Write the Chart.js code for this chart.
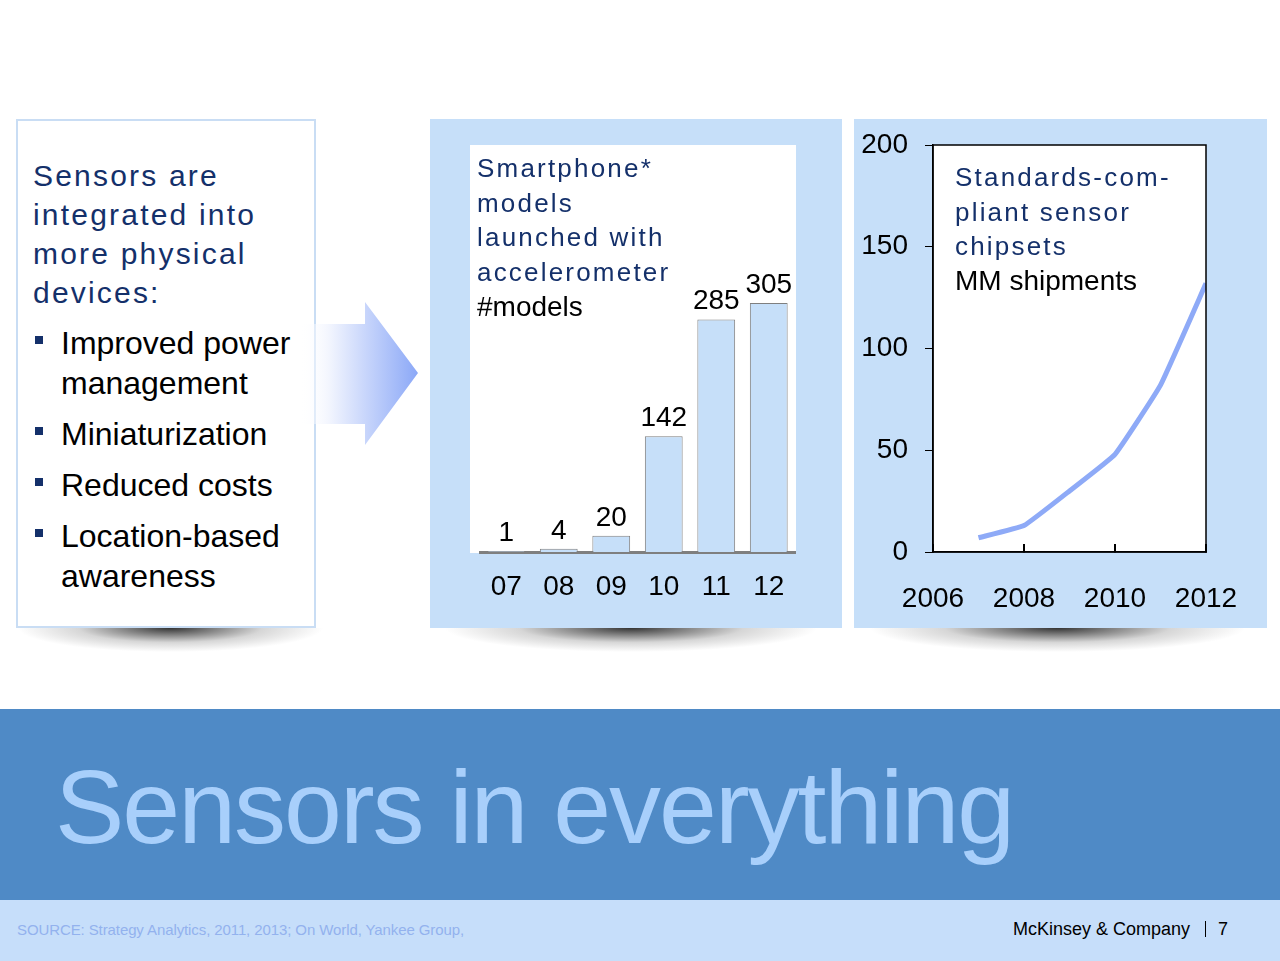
<!DOCTYPE html>
<html>
<head>
<meta charset="utf-8">
<script src="https://cdn.jsdelivr.net/npm/chart.js@4.4.1/dist/chart.umd.min.js"></script>
<style>
  body { margin: 0; width: 1280px; height: 961px; position: relative; overflow: hidden; background: #fff;
         font-family: "Liberation Sans", Arial, sans-serif; }
  .abs { position: absolute; }
  .shadow { height: 24px; top: 628px;
            background: radial-gradient(ellipse 50% 100% at 50% 0%, rgba(30,30,30,0.9), rgba(120,120,120,0.3) 60%, rgba(255,255,255,0) 100%); }
  .navy { color: #14306a; letter-spacing: 2.2px; }
  #leftBox { left: 16px; top: 119px; width: 300px; height: 509px; box-sizing: border-box;
             border: 2px solid #c9ddf4; background: #fff; }
  #leftHead { left: 33px; top: 156px; font-size: 30px; line-height: 39px; letter-spacing: 2.2px; }
  #bullets { left: 61px; top: 323px; margin: 0; padding: 0; list-style: none; font-size: 32px; line-height: 40px; color: #000; }
  #bullets li { position: relative; margin-bottom: 11px; }
  #bullets li::before { content: ""; position: absolute; left: -26px; top: 13px; width: 8px; height: 8px; background: #14306a; }
  .panel { background: #c6dff9; top: 119px; height: 509px; }
  .chartTitle { font-size: 26px; line-height: 34.7px; z-index: 3; }
  .chartTitle .black { color: #000; letter-spacing: 0; font-size: 28px; }
  canvas { position: absolute; z-index: 2; }
  #band { left: 0; top: 709px; width: 1280px; height: 191px; background: #4f8ac6; }
  #bigTitle { left: 55px; top: 755px; font-size: 104px; line-height: 104px; letter-spacing: -2px; color: #a8cffb; white-space: nowrap; }
  #footer { left: 0; top: 900px; width: 1280px; height: 61px; background: #c6defa; }
  #source { left: 17px; top: 921px; font-size: 15px; color: #93b2ee; letter-spacing: -0.1px; white-space: nowrap; }
  #brand { left: 1013px; top: 919px; font-size: 18px; color: #000; white-space: nowrap; }
  #sep { left: 1205px; top: 921px; width: 1px; height: 16px; background: #000; }
  #page { left: 1218px; top: 919px; font-size: 18px; color: #000; }
</style>
</head>
<body>

<!-- left text panel -->
<div class="abs shadow" style="left:18px;width:305px;"></div>
<div class="abs" id="leftBox"></div>
<div class="abs navy" id="leftHead">Sensors are<br>integrated into<br>more physical<br>devices:</div>
<ul class="abs" id="bullets">
  <li>Improved power<br>management</li>
  <li>Miniaturization</li>
  <li>Reduced costs</li>
  <li>Location-based<br>awareness</li>
</ul>

<svg class="abs" style="left:0;top:0;z-index:1;" width="430" height="460">
  <defs>
    <linearGradient id="arrowFill" x1="300" y1="0" x2="418" y2="0" gradientUnits="userSpaceOnUse">
      <stop offset="0" stop-color="#ffffff" stop-opacity="0"/>
      <stop offset="0.25" stop-color="#f2f5fe"/>
      <stop offset="1" stop-color="#8ba8f7"/>
    </linearGradient>
  </defs>
  <polygon points="296,324 365,324 365,302 418,373 365,445 365,424 296,424" fill="url(#arrowFill)"/>
</svg>

<!-- bar chart panel -->
<div class="abs shadow" style="left:445px;width:372px;"></div>
<div class="abs panel" style="left:430px;width:412px;"></div>
<div class="abs" style="left:470px;top:145px;width:326px;height:408px;background:#fff;"></div>
<canvas id="barChart" width="412" height="509" style="left:430px;top:119px;"></canvas>
<div class="abs navy chartTitle" style="left:477px;top:151px;">Smartphone*<br>models<br>launched with<br>accelerometer<br><span class="black">#models</span></div>

<!-- line chart panel -->
<div class="abs shadow" style="left:870px;width:375px;"></div>
<div class="abs panel" style="left:854px;width:413px;"></div>
<canvas id="lineChart" width="413" height="509" style="left:854px;top:119px;"></canvas>
<div class="abs navy chartTitle" style="left:955px;top:160px;">Standards-com-<br>pliant sensor<br>chipsets<br><span class="black">MM shipments</span></div>

<!-- bottom -->
<div class="abs" id="band"></div>
<div class="abs" id="bigTitle">Sensors in everything</div>
<div class="abs" id="footer"></div>
<div class="abs" id="source">SOURCE: Strategy Analytics, 2011, 2013; On World, Yankee Group,</div>
<div class="abs" id="brand">McKinsey &amp; Company</div>
<div class="abs" id="sep"></div>
<div class="abs" id="page">7</div>

<script>
const barYears = ["07", "08", "09", "10", "11", "12"];
const barModels = [1, 4, 20, 142, 285, 305];

const lineYears = [2007, 2008, 2009, 2010, 2011, 2012];
const lineShipments = [7, 13, 30, 48, 82, 132];
const lineXTicks = [2006, 2008, 2010, 2012];
const lineYTicks = [0, 50, 100, 150, 200];

Chart.defaults.font.family = "'Liberation Sans', Arial, sans-serif";
Chart.defaults.color = "#000";

// numbers above the bars
const valueLabels = {
  id: "valueLabels",
  afterDatasetsDraw(chart) {
    const ctx = chart.ctx;
    const meta = chart.getDatasetMeta(0);
    ctx.save();
    ctx.font = "28px 'Liberation Sans', Arial, sans-serif";
    ctx.fillStyle = "#000";
    ctx.textAlign = "center";
    ctx.textBaseline = "alphabetic";
    meta.data.forEach((bar, i) => {
      ctx.fillText(String(barModels[i]), bar.x, bar.y - 10);
    });
    ctx.restore();
  }
};

// white plot area with a full black frame
const plotBox = {
  id: "plotBox",
  beforeDraw(chart) {
    const a = chart.chartArea;
    chart.ctx.save();
    chart.ctx.fillStyle = "#fff";
    chart.ctx.fillRect(a.left, a.top, a.right - a.left, a.bottom - a.top);
    chart.ctx.restore();
  },
  afterDraw(chart) {
    const a = chart.chartArea;
    chart.ctx.save();
    chart.ctx.strokeStyle = "#000";
    chart.ctx.lineWidth = 1.5;
    chart.ctx.strokeRect(a.left, a.top, a.right - a.left, a.bottom - a.top);
    chart.ctx.restore();
  }
};

new Chart(document.getElementById("barChart"), {
  type: "bar",
  data: {
    labels: barYears,
    datasets: [{
      data: barModels,
      backgroundColor: "#c6dff9",
      borderColor: "#7f7f7f",
      borderWidth: 1,
      categoryPercentage: 1,
      barPercentage: 0.72
    }]
  },
  options: {
    responsive: false,
    animation: false,
    layout: { padding: { left: 50, right: 47, top: 25, bottom: 0 } },
    plugins: { legend: { display: false }, tooltip: { enabled: false } },
    scales: {
      y: { display: false, min: 0, max: 500 },
      x: {
        grid: { display: false, drawTicks: false },
        border: { display: true, color: "#7f7f7f", width: 3 },
        ticks: { font: { size: 28 }, padding: 18 },
        afterFit(scale) { scale.height = 76; }
      }
    }
  },
  plugins: [valueLabels]
});

new Chart(document.getElementById("lineChart"), {
  type: "line",
  data: {
    datasets: [{
      data: lineYears.map((year, i) => ({ x: year, y: lineShipments[i] })),
      borderColor: "#8eaaf7",
      borderWidth: 5,
      pointRadius: 0,
      tension: 0.1,
      fill: false
    }]
  },
  options: {
    responsive: false,
    animation: false,
    layout: { padding: { left: 0, right: 61, top: 26, bottom: 0 } },
    plugins: { legend: { display: false }, tooltip: { enabled: false } },
    scales: {
      x: {
        type: "linear",
        min: 2006,
        max: 2012,
        afterBuildTicks(scale) { scale.ticks = lineXTicks.map(v => ({ value: v })); },
        grid: { drawOnChartArea: false, color: "#000", lineWidth: 2, tickLength: -8 },
        border: { display: true, color: "#000", width: 1.5 },
        ticks: { font: { size: 28 }, padding: 38, callback: v => String(v) },
        afterFit(scale) {
          scale.height = 76;
          scale.paddingLeft = 0;
          scale.paddingRight = 0;
        }
      },
      y: {
        min: 0,
        max: 200,
        afterBuildTicks(scale) { scale.ticks = lineYTicks.map(v => ({ value: v })); },
        grid: { drawOnChartArea: false, color: "#000", lineWidth: 1, tickLength: 8 },
        border: { display: true, color: "#000", width: 1.5 },
        ticks: { font: { size: 28 }, padding: 17, callback: v => String(v) },
        afterFit(scale) {
          scale.width = 79;
          scale.paddingTop = 0;
          scale.paddingBottom = 0;
        }
      }
    }
  },
  plugins: [plotBox]
});
</script>
</body>
</html>
